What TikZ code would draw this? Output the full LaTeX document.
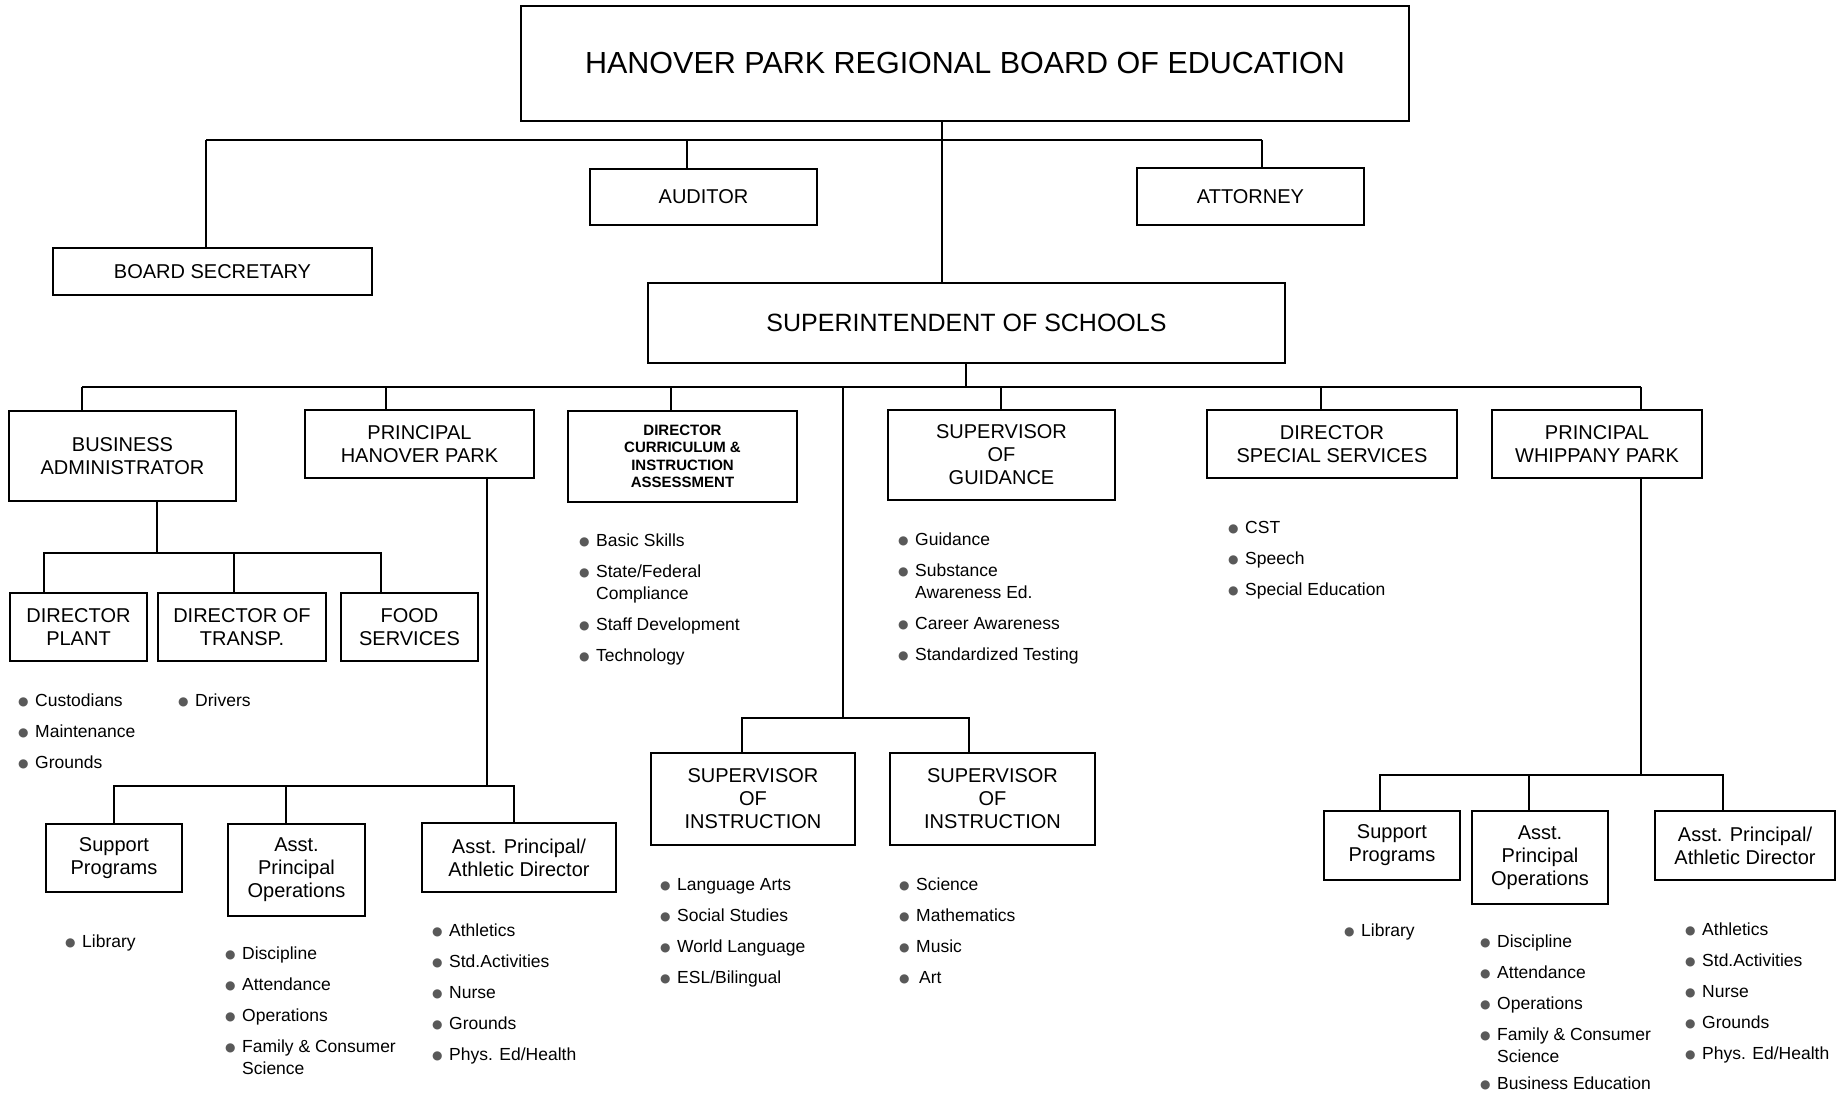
\documentclass[tikz,border=0pt]{standalone}
\usepackage{fontspec}
\setmainfont{Liberation Sans}
\newfontfamily\dotfont{DejaVu Sans}
\newcommand{\bul}{\makebox[17pt][l]{\raisebox{1pt}{\dotfont\fontsize{12}{12}\selectfont\color{black!65}●}}}
\newcommand{\cont}{\hspace*{17pt}}

\begin{document}
\begin{tikzpicture}[x=1pt, y=1pt, yscale=-1,
  box/.style={draw, line width=1.4pt, align=center, inner sep=0pt, font=\fontsize{20}{23}\selectfont},
  items/.style={anchor=north west, inner sep=0pt, align=left, font=\fontsize{17.5}{22}\selectfont},
  link/.style={line width=1.4pt}]
\useasboundingbox (0,0) rectangle (1841,1094);
\fill[white] (0,0) rectangle (1841,1094);
\node[box, minimum width=888, minimum height=115, font=\fontsize{30.5}{34}\selectfont] (board) at (965,63.5) {HANOVER PARK REGIONAL BOARD OF EDUCATION};
\node[box, minimum width=227, minimum height=56] (auditor) at (703.5,197) {AUDITOR};
\node[box, minimum width=227, minimum height=57] (attorney) at (1250.5,196.5) {ATTORNEY};
\node[box, minimum width=319, minimum height=47] (secretary) at (212.5,271.5) {BOARD SECRETARY};
\node[box, minimum width=637, minimum height=80, font=\fontsize{25}{28}\selectfont] (super) at (966.5,323) {SUPERINTENDENT OF SCHOOLS};
\node[box, minimum width=227, minimum height=90] (busadmin) at (122.5,456) {BUSINESS\\ADMINISTRATOR};
\node[box, minimum width=229, minimum height=68] (hanover) at (419.5,444) {PRINCIPAL\\HANOVER PARK};
\node[box, minimum width=229, minimum height=91, font=\bfseries\fontsize{15}{17.5}\selectfont] (curric) at (682.5,456.5) {DIRECTOR\\CURRICULUM \&\\INSTRUCTION\\ASSESSMENT};
\node[box, minimum width=227, minimum height=90] (guidance) at (1001.5,455) {SUPERVISOR\\OF\\GUIDANCE};
\node[box, minimum width=250, minimum height=68] (special) at (1332,444) {DIRECTOR\\SPECIAL SERVICES};
\node[box, minimum width=210, minimum height=68] (whippany) at (1597,444) {PRINCIPAL\\WHIPPANY PARK};
\node[box, minimum width=137, minimum height=68] (plant) at (78.5,627) {DIRECTOR\\PLANT};
\node[box, minimum width=168, minimum height=68] (transp) at (242,627) {DIRECTOR OF\\TRANSP.};
\node[box, minimum width=137, minimum height=68] (food) at (409.5,627) {FOOD\\SERVICES};
\node[box, minimum width=136, minimum height=68] (support1) at (114,858) {Support\\Programs};
\node[box, minimum width=137, minimum height=92] (ops1) at (296.5,870) {Asst.\\Principal\\Operations};
\node[box, minimum width=194, minimum height=69] (ath1) at (519,857.5) {Asst. Principal/\\Athletic Director};
\node[box, minimum width=204, minimum height=92] (soi1) at (753,799) {SUPERVISOR\\OF\\INSTRUCTION};
\node[box, minimum width=205, minimum height=92] (soi2) at (992.5,799) {SUPERVISOR\\OF\\INSTRUCTION};
\node[box, minimum width=136, minimum height=69] (support2) at (1392,845.5) {Support\\Programs};
\node[box, minimum width=136, minimum height=93] (ops2) at (1540,857.5) {Asst.\\Principal\\Operations};
\node[box, minimum width=180, minimum height=69] (ath2) at (1745,845.5) {Asst. Principal/\\Athletic Director};

\node[items] (plantlist) at (18,693.5) {\bul Custodians\\[9pt]\bul Maintenance\\[9pt]\bul Grounds};
\node[items] (transplist) at (178,693.5) {\bul Drivers};
\node[items] (support1list) at (65,934.5) {\bul Library};
\node[items] (ops1list) at (225,946.5) {\bul Discipline\\[9pt]\bul Attendance\\[9pt]\bul Operations\\[9pt]\bul Family \& Consumer\\\cont Science};
\node[items] (ath1list) at (432,923.5) {\bul Athletics\\[9pt]\bul Std.Activities\\[9pt]\bul Nurse\\[9pt]\bul Grounds\\[9pt]\bul Phys. Ed/Health};
\node[items] (curriclist) at (579,533.5) {\bul Basic Skills\\[9pt]\bul State/Federal\\\cont Compliance\\[9pt]\bul Staff Development\\[9pt]\bul Technology};
\node[items] (guidancelist) at (898,532.5) {\bul Guidance\\[9pt]\bul Substance\\\cont Awareness Ed.\\[9pt]\bul Career Awareness\\[9pt]\bul Standardized Testing};
\node[items] (speciallist) at (1228,521.5) {\bul CST\\[9pt]\bul Speech\\[9pt]\bul Special Education};
\node[items] (soi1list) at (660,878.5) {\bul Language Arts\\[9pt]\bul Social Studies\\[9pt]\bul World Language\\[9pt]\bul ESL/Bilingual};
\node[items] (soi2list) at (899,877.5) {\bul Science\\[9pt]\bul Mathematics\\[9pt]\bul Music\\[9pt]\bul\hspace{3pt}Art};
\node[items] (support2list) at (1344,923.5) {\bul Library};
\node[items] (ops2list) at (1480,934.5) {\bul Discipline\\[9pt]\bul Attendance\\[9pt]\bul Operations\\[9pt]\bul Family \& Consumer\\\cont Science\\[5pt]\bul Business Education};
\node[items] (ath2list) at (1685,922.5) {\bul Athletics\\[9pt]\bul Std.Activities\\[9pt]\bul Nurse\\[9pt]\bul Grounds\\[9pt]\bul Phys. Ed/Health};

\coordinate (secdrop) at (206,140);
\coordinate (auddrop) at (687,140);
\coordinate (attdrop) at (1262,140);
\draw[link] (secdrop) -- (attdrop);
\draw[link] (board.south -| 942,0) -- (super.north -| 942,0);
\draw[link] (secdrop) -- (secdrop |- secretary.north);
\draw[link] (auddrop) -- (auddrop |- auditor.north);
\draw[link] (attdrop) -- (attdrop |- attorney.north);

\coordinate (busdrop) at (82,387);
\coordinate (supdrop) at (966,387);
\coordinate (handrop) at (386,387);
\coordinate (curdrop) at (671,387);
\coordinate (middrop) at (843,387);
\coordinate (guidrop) at (1001,387);
\coordinate (spedrop) at (1321,387);
\coordinate (whidrop) at (1641,387);
\draw[link] (busdrop) -- (whidrop);
\draw[link] (supdrop) -- (supdrop |- super.south);
\draw[link] (busdrop) -- (busdrop |- busadmin.north);
\draw[link] (handrop) -- (handrop |- hanover.north);
\draw[link] (curdrop) -- (curdrop |- curric.north);
\draw[link] (guidrop) -- (guidrop |- guidance.north);
\draw[link] (spedrop) -- (spedrop |- special.north);
\draw[link] (whidrop) -- (whidrop |- whippany.north);

\draw[link] (busadmin.south -| 157,0) -- (157,553);
\draw[link] (plant.north -| 44,0) -- (44,553) -- (381,553) -- (food.north -| 381,0);
\draw[link] (transp.north -| 234,0) -- (234,553);

\draw[link] (hanover.south -| 487,0) -- (487,786);
\draw[link] (support1.north) -- (114,786) -- (514,786) -- (ath1.north -| 514,0);
\draw[link] (ops1.north -| 286,0) -- (286,786);

\draw[link] (middrop) -- (843,718);
\draw[link] (soi1.north -| 742,0) -- (742,718) -- (969,718) -- (soi2.north -| 969,0);

\draw[link] (whippany.south -| 1641,0) -- (1641,775);
\draw[link] (support2.north -| 1380,0) -- (1380,775) -- (1723,775) -- (ath2.north -| 1723,0);
\draw[link] (ops2.north -| 1529,0) -- (1529,775);
\end{tikzpicture}
\end{document}
